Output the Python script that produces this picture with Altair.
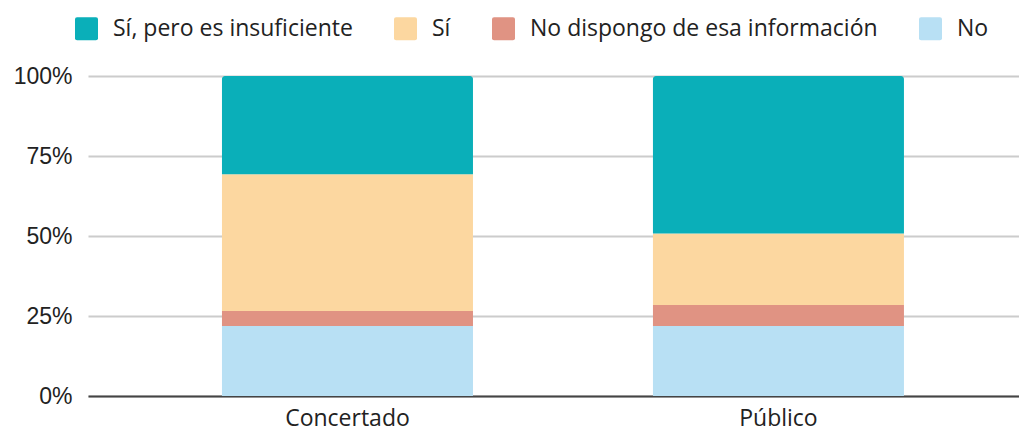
import altair as alt
import pandas as pd

categories = ["Concertado", "Público"]
series = ["Sí, pero es insuficiente", "Sí", "No dispongo de esa información", "No"]
colors = ["#0AAFB9", "#FCD7A0", "#E09383", "#B8E0F4"]
insuficiente = [30.7, 49.2]
si = [42.7, 22.4]
no_dispongo = [4.7, 6.5]
no = [21.9, 21.9]
y_ticks = [0, 25, 50, 75, 100]

rows = []
for i, c in enumerate(categories):
    for s, vals, order in [("No", no, 0), ("No dispongo de esa información", no_dispongo, 1),
                           ("Sí", si, 2), ("Sí, pero es insuficiente", insuficiente, 3)]:
        rows.append({"cat": c, "serie": s, "valor": vals[i], "ord": order})
df = pd.DataFrame(rows)

FONT = "Open Sans"
rounded = "M-0.82,-1 H0.82 Q1,-1 1,-0.82 V0.82 Q1,1 0.82,1 H-0.82 Q-1,1 -1,0.82 V-0.82 Q-1,-1 -0.82,-1 Z"

base = alt.Chart(df).transform_stack(
    stack="valor", groupby=["cat"], as_=["y0", "y1"], sort=[alt.SortField("ord", order="ascending")]
)

xenc = alt.X("cat:N", sort=categories, title=None,
             scale=alt.Scale(paddingInner=0.4176, paddingOuter=0.2889, align=0.538),
             axis=alt.Axis(labelFont=FONT, labelFontSize=23, labelColor="#222222", labelPadding=11,
                           ticks=False, domainColor="#444444", domainWidth=2, labelAngle=0))
yenc = alt.Y("y0:Q", title=None,
             scale=alt.Scale(domain=[0, 100], nice=False),
             axis=alt.Axis(values=y_ticks, labelExpr="datum.value + '%'", labelFont="Liberation Sans",
                           labelFontSize=23, labelColor="#222222", labelPadding=16, ticks=False,
                           domain=False, gridColor="#cccccc", gridWidth=2,
                           minExtent=80, maxExtent=80))
colorenc = alt.Color("serie:N", scale=alt.Scale(domain=series, range=colors),
                     legend=alt.Legend(title=None, orient="none", direction="horizontal",
                                       legendX=-13, legendY=-59, symbolType=rounded, symbolSize=529,
                                       symbolStrokeWidth=0, labelFont=FONT, labelFontSize=23,
                                       labelColor="#222222", labelOffset=15, columnPadding=41,
                                       labelLimit=0))

bars = base.transform_filter(alt.datum.ord < 3).mark_bar().encode(
    x=xenc, y=yenc, y2="y1:Q", color=colorenc
)
top = base.transform_filter(alt.datum.ord == 3).mark_bar(
    cornerRadiusTopLeft=3, cornerRadiusTopRight=3
).encode(x=xenc, y=yenc, y2="y1:Q", color=colorenc)

chart = alt.layer(bars, top).properties(
    width=931, height=320, padding={"left": 0, "top": 9, "right": 0, "bottom": 0}
).configure_view(stroke=None).configure_axisX(grid=False)

chart.save("out.html", embed_options={"renderer": "svg", "actions": False})
